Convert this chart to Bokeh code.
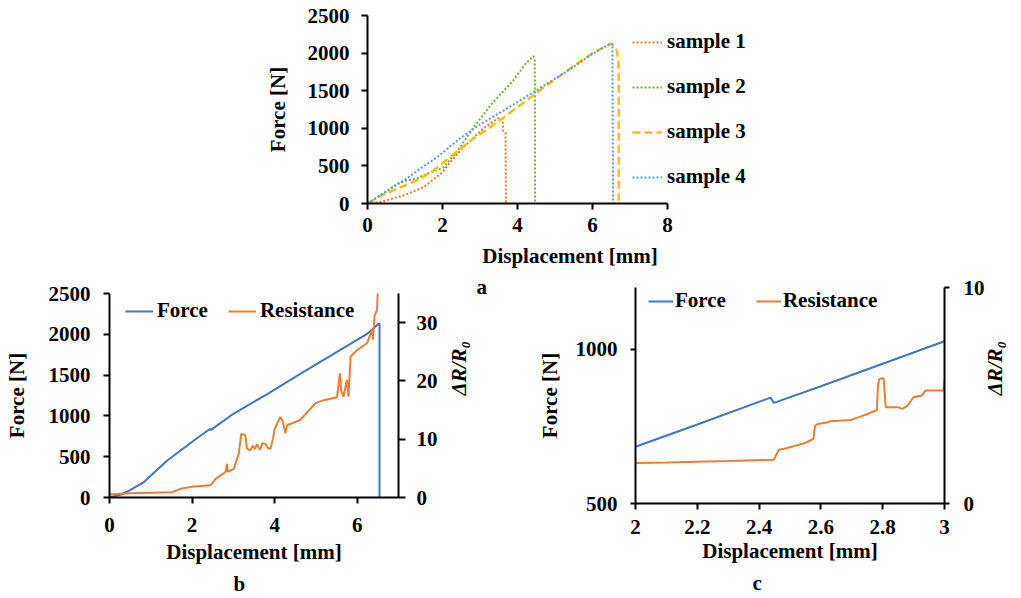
import math
from bokeh.plotting import figure
from bokeh.models import Range1d, LinearAxis, Legend, LegendItem, Title, FixedTicker
from bokeh.layouts import column, row
from bokeh.embed import file_html
from bokeh.resources import INLINE

FONT = "Liberation Serif"

# ---------------- Panel a data ----------------
a_x_ticks = [0, 2, 4, 6, 8]
a_y_ticks = [0, 500, 1000, 1500, 2000, 2500]

s1_x = [0, 0.36, 0.98, 1.51, 1.96, 2.4, 2.93, 3.2, 3.47, 3.55, 3.6, 3.62, 3.68, 3.69]
s1_y = [0, 22, 110, 221, 398, 664, 929, 1040, 1128, 1140, 1120, 960, 940, 0]

s2_x = [0, 0.5, 0.8, 1.0, 1.33, 1.6, 2.03, 2.4, 2.83, 3.3, 3.89, 4.2, 4.42, 4.46, 4.47]
s2_y = [0, 160, 266, 300, 335, 400, 480, 700, 1011, 1320, 1636, 1850, 1960, 1930, 0]

s3_x = [0, 0.35, 0.8, 1.33, 1.78, 2.04, 2.76, 3.56, 4.53, 5.42, 6.0, 6.49, 6.58, 6.65, 6.69, 6.7, 6.7]
s3_y = [0, 100, 199, 310, 442, 553, 841, 1116, 1480, 1800, 2000, 2124, 2100, 2030, 1900, 1750, 0]

s4_x = [0, 0.5, 0.98, 1.4, 1.87, 2.4, 3.0, 3.64, 4.53, 5.42, 6.0, 6.49, 6.53, 6.55]
s4_y = [0, 160, 310, 460, 619, 841, 1050, 1239, 1513, 1792, 1990, 2133, 2120, 0]

# ---------------- Panel b data ----------------
b_x_ticks = [0, 2, 4, 6]
b_y_ticks = [0, 500, 1000, 1500, 2000, 2500]
b_r_ticks = [0, 10, 20, 30]

bf_x = [0, 0.3, 0.5, 0.82, 1.39, 2.2, 2.44, 2.45, 3.0, 3.82, 4.62, 5.43, 6.24, 6.52, 6.54, 6.54]
bf_y = [0, 40, 90, 184, 450, 756, 843, 825, 1026, 1268, 1514, 1759, 2005, 2128, 2128, 0]

br_x = [0.0, 0.5, 1.52, 1.72, 2.04, 2.45, 2.57, 2.81, 2.85, 2.86, 3.01, 3.13, 3.19, 3.29, 3.33,
        3.41, 3.47, 3.52, 3.57, 3.65, 3.7, 3.78, 3.84, 3.9, 3.96, 4.0, 4.14, 4.2, 4.26, 4.3,
        4.62, 4.99, 5.19, 5.51, 5.58, 5.61, 5.67, 5.75, 5.79, 5.84, 6.0, 6.24, 6.36, 6.38,
        6.42, 6.48, 6.5]
br_y = [0.5, 0.75, 0.92, 1.49, 1.9, 2.1, 3.2, 4.37, 5.8, 4.4, 4.9, 7.5, 10.9, 10.7, 8.4,
        8.1, 8.9, 8.3, 9.1, 8.2, 9.3, 9.2, 8.4, 8.4, 10.1, 11.8, 13.8, 13.0, 11.0, 12.4,
        13.3, 16.2, 16.7, 17.2, 21.3, 18.4, 17.3, 20.2, 17.3, 24.2, 25.3, 26.5, 28.8, 27.1,
        31.1, 32.2, 36.0]

# ---------------- Panel c data ----------------
c_x_ticks = [2, 2.2, 2.4, 2.6, 2.8, 3]
c_x_labels = ["2", "2.2", "2.4", "2.6", "2.8", "3"]
c_y_ticks = [500, 1000]
c_r_ticks = [0, 10]

cf_x = [2.0, 2.2, 2.437, 2.448, 2.6, 2.8, 3.0]
cf_y = [684, 756, 843, 826, 880, 953, 1026]

cr_x = [2.0, 2.1, 2.3, 2.448, 2.464, 2.485, 2.517, 2.549, 2.576, 2.581, 2.59, 2.624, 2.63,
        2.698, 2.752, 2.781, 2.785, 2.789, 2.803, 2.81, 2.848, 2.864, 2.88, 2.9, 2.927,
        2.938, 2.997, 3.0]
cr_y = [1.87, 1.9, 1.97, 2.03, 2.49, 2.55, 2.68, 2.8, 2.99, 3.6, 3.68, 3.76, 3.81,
        3.87, 4.15, 4.33, 5.5, 5.77, 5.8, 4.46, 4.46, 4.38, 4.53, 4.92, 5.0,
        5.23, 5.23, 5.7]

C_BLUE = "#4472C4"
C_ORANGE = "#ED7D31"
C_GREEN = "#70AD47"
C_GOLD = "#FFC000"
C_LBLUE = "#5B9BD5"


def base_fig(**kw):
    p = figure(output_backend="svg", toolbar_location=None, **kw)
    p.outline_line_color = None
    p.xgrid.visible = False
    p.ygrid.visible = False
    p.background_fill_color = "white"
    p.border_fill_alpha = 0
    try:
        p.frame_align = False
    except Exception:
        pass
    return p


def style_axis(ax, tick_out=6, label_standoff=10, title_standoff=10):
    ax.axis_line_color = "black"
    ax.axis_line_width = 2
    ax.major_tick_line_color = "black"
    ax.major_tick_line_width = 2
    ax.major_tick_out = tick_out
    ax.major_tick_in = 0
    ax.minor_tick_line_color = None
    ax.major_label_text_font = FONT
    ax.major_label_text_font_style = "bold"
    ax.major_label_text_font_size = "21px"
    ax.major_label_text_color = "black"
    ax.major_label_standoff = label_standoff
    ax.axis_label_text_font = FONT
    ax.axis_label_text_font_style = "bold"
    ax.axis_label_text_font_size = "21px"
    ax.axis_label_text_color = "black"
    ax.axis_label_standoff = title_standoff


def style_legend(lg):
    lg.label_text_font = FONT
    lg.label_text_font_style = "bold"
    lg.label_text_font_size = "21px"
    lg.label_text_color = "black"
    lg.border_line_color = None
    lg.background_fill_alpha = 0
    lg.padding = 0
    lg.margin = 0
    lg.label_height = 24
    lg.glyph_height = 24


def panel_letter(p, text, offset, standoff):
    p.add_layout(Title(text=text, align="left", offset=offset, standoff=standoff,
                       text_font=FONT, text_font_style="bold", text_font_size="21px",
                       text_color="black"), "below")


# ================= Panel a =================
# frame: x 367..772 (0..10.8 mm at 37.5 px/mm, axis drawn 0..8), y 15..203
pa = base_fig(width=1021, height=302, x_range=Range1d(0, 10.8), y_range=Range1d(0, 2500),
              min_border_left=367, min_border_right=249, min_border_top=15, min_border_bottom=99)
pa.xaxis.ticker = FixedTicker(ticks=a_x_ticks)
pa.xaxis.bounds = (0, 8)
pa.yaxis.ticker = FixedTicker(ticks=a_y_ticks)
pa.xaxis.axis_label = "Displacement [mm]"
pa.yaxis.axis_label = "Force [N]"
style_axis(pa.xaxis[0], tick_out=6, label_standoff=8, title_standoff=9)
style_axis(pa.yaxis[0], tick_out=6, label_standoff=12, title_standoff=15)

r1 = pa.line(s1_x, s1_y, line_color=C_ORANGE, line_width=2, line_dash="2 2")
r2 = pa.line(s2_x, s2_y, line_color=C_GREEN, line_width=2, line_dash="2 2")
r3 = pa.line(s3_x, s3_y, line_color=C_GOLD, line_width=2.5, line_dash="8 4")
r4 = pa.line(s4_x, s4_y, line_color=C_LBLUE, line_width=2, line_dash="2 2")
lga = Legend(items=[LegendItem(label="sample 1", renderers=[r1]),
                    LegendItem(label="sample 2", renderers=[r2]),
                    LegendItem(label="sample 3", renderers=[r3]),
                    LegendItem(label="sample 4", renderers=[r4])],
             location=(265, 14))
style_legend(lga)
lga.glyph_width = 30
lga.label_standoff = 5
lga.spacing = 20
pa.add_layout(lga, "center")
panel_letter(pa, "a", 109, 4)

# ================= Panel b =================
pb = base_fig(width=520, height=324, x_range=Range1d(0, 7), y_range=Range1d(0, 2500),
              min_border_left=109, min_border_right=122, min_border_top=19, min_border_bottom=101)
pb.extra_y_ranges = {"r": Range1d(0, 35)}
pb.xaxis.ticker = FixedTicker(ticks=b_x_ticks)
pb.yaxis.ticker = FixedTicker(ticks=b_y_ticks)
pb.xaxis.axis_label = "Displacement [mm]"
pb.yaxis.axis_label = "Force [N]"
style_axis(pb.xaxis[0], tick_out=6, label_standoff=14, title_standoff=5)
style_axis(pb.yaxis[0], tick_out=6, label_standoff=13, title_standoff=17)
rax_b = LinearAxis(y_range_name="r", ticker=FixedTicker(ticks=b_r_ticks), axis_label="ΔR/R₀")
style_axis(rax_b, tick_out=7, label_standoff=11, title_standoff=18)
rax_b.axis_label_text_font_style = "bold italic"
rax_b.axis_label_orientation = math.pi / 2
pb.add_layout(rax_b, "right")

bf = pb.line(bf_x, bf_y, line_color=C_BLUE, line_width=2)
br = pb.line(br_x, br_y, line_color=C_ORANGE, line_width=2, y_range_name="r")
lgb = Legend(items=[LegendItem(label="Force", renderers=[bf]),
                    LegendItem(label="Resistance", renderers=[br])],
             location=(16, 174), orientation="horizontal")
style_legend(lgb)
lgb.glyph_width = 28
lgb.label_standoff = 4
lgb.spacing = 20
pb.add_layout(lgb, "center")
panel_letter(pb, "b", 124, 6)

# ================= Panel c =================
pc = base_fig(width=501, height=324, x_range=Range1d(2, 3), y_range=Range1d(500, 1200),
              min_border_left=115, min_border_right=73, min_border_top=13, min_border_bottom=95)
pc.extra_y_ranges = {"r": Range1d(0, 10)}
pc.xaxis.ticker = FixedTicker(ticks=c_x_ticks)
pc.xaxis.major_label_overrides = {t: l for t, l in zip(c_x_ticks, c_x_labels)}
pc.yaxis.ticker = FixedTicker(ticks=c_y_ticks)
pc.xaxis.axis_label = "Displacement [mm]"
pc.yaxis.axis_label = "Force [N]"
style_axis(pc.xaxis[0], tick_out=6, label_standoff=10, title_standoff=2)
style_axis(pc.yaxis[0], tick_out=5, label_standoff=13, title_standoff=11)
rax_c = LinearAxis(y_range_name="r", ticker=FixedTicker(ticks=c_r_ticks), axis_label="ΔR/R₀")
style_axis(rax_c, tick_out=5, label_standoff=14, title_standoff=7)
rax_c.axis_label_text_font_style = "bold italic"
rax_c.axis_label_orientation = math.pi / 2
pc.add_layout(rax_c, "right")

cf = pc.line(cf_x, cf_y, line_color=C_BLUE, line_width=2)
cr = pc.line(cr_x, cr_y, line_color=C_ORANGE, line_width=2, y_range_name="r")
lgc = Legend(items=[LegendItem(label="Force", renderers=[cf]),
                    LegendItem(label="Resistance", renderers=[cr])],
             location=(13, 190), orientation="horizontal")
style_legend(lgc)
lgc.glyph_width = 25
lgc.label_standoff = 2
lgc.spacing = 30
pc.add_layout(lgc, "center")
panel_letter(pc, "c", 117, 7)

bottom = row(pb, pc, margin=(-28, 0, 0, 0))
layout = column(pa, bottom)
open("out.html", "w").write(file_html(layout, INLINE))
